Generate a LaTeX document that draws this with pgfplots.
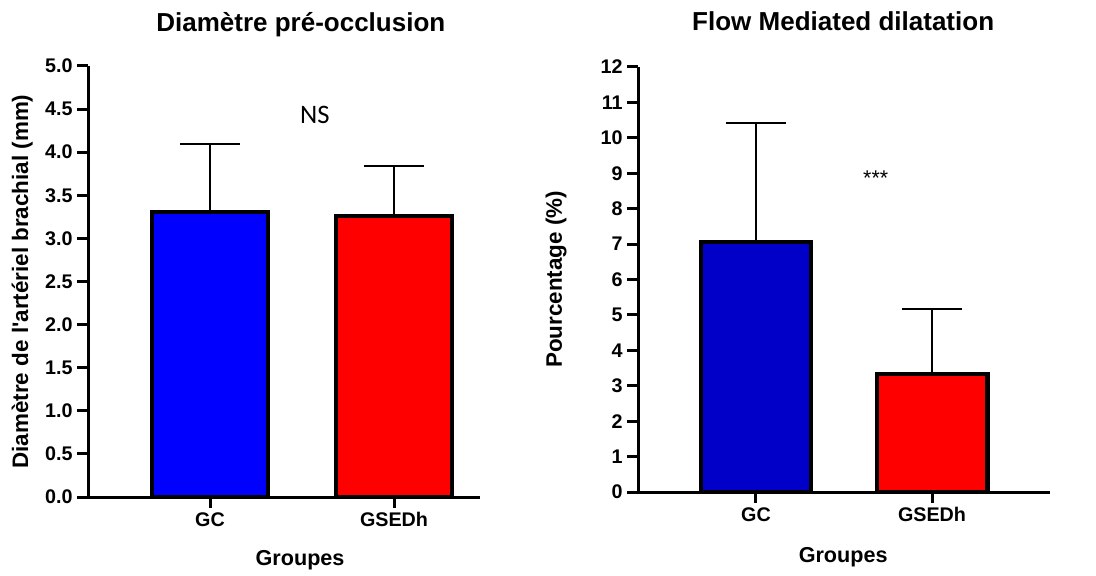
\documentclass[border=0pt]{standalone}
\usepackage{fontspec}
\setmainfont{Liberation Sans}
\newfontfamily\calib{Carlito}
\usepackage{pgfplots}
\pgfplotsset{compat=1.18}
\definecolor{blueA}{RGB}{0,0,255}
\definecolor{blueB}{RGB}{0,0,200}
\definecolor{redA}{RGB}{255,0,0}
\pgfplotsset{
  gp/.style={
    scale only axis,
    axis x line*=bottom, axis y line*=left,
    axis line style={line width=2.25pt, black},
    tick style={line width=2.25pt, black},
    major tick length=8pt,
    tick align=outside,
    xtick={0,1}, xticklabels={GC,GSEDh},
    ymin=0,
    /pgf/number format/assume math mode=true,
    ticklabel style={font=\bfseries\fontsize{14.8}{15}\selectfont},
    xlabel style={font=\bfseries\fontsize{16.2}{17}\selectfont},
    ylabel style={font=\bfseries\fontsize{16.8}{17}\selectfont},
    title style={font=\bfseries\fontsize{19.5}{20}\selectfont, yshift=-7pt},
    clip=false,
  },
  gbar/.style={ybar, bar width=#1, bar shift=0pt, draw=black, line width=3.2pt,
    /pgfplots/error bars/y dir=plus, /pgfplots/error bars/y explicit,
    /pgfplots/error bars/error bar style={line width=1.5pt, black},
    /pgfplots/error bars/error mark options={rotate=90, line width=1.5pt, mark size=22.5pt, black}},
}
\begin{document}
\begin{tikzpicture}
\useasboundingbox (0,0) rectangle (822pt,431.25pt);
% Left chart
\begin{axis}[gp,
  at={(66pt,58.5pt)}, anchor=south west,
  width=294pt, height=323.25pt,
  xmin=-0.663, xmax=1.467,
  ymax=5, ytick={0,0.5,...,5},
  yticklabel style={/pgf/number format/.cd, fixed, fixed zerofill, precision=1},
  title={Diamètre pré-occlusion},
  title style={at={(axis description cs:0.543,1.10)}, anchor=center},
  ylabel={Diamètre de l\textquotesingle artériel brachial (mm)},
  ylabel style={at={(axis description cs:-0.168,0.5)}, anchor=center, rotate=0},
  xlabel={Groupes},
  xlabel style={at={(axis description cs:0.541,-0.146)}, anchor=center},
]
\addplot[fill=blueA, gbar=87pt] coordinates {(0,3.31) +- (0,0.78)};
\addplot[fill=redA, gbar=87pt] coordinates {(1,3.26) +- (0,0.58)};
\node[font=\calib\fontsize{20}{20}\selectfont] at (axis cs:0.57,4.43) {NS};
\end{axis}
% Right chart
\begin{axis}[gp,
  at={(478.5pt,62.25pt)}, anchor=south west,
  width=309pt, height=318.75pt,
  xmin=-0.67, xmax=1.67,
  ymax=12, ytick={0,1,...,12},
  title={Flow Mediated dilatation},
  title style={at={(axis description cs:0.498,1.11)}, anchor=center},
  ylabel={Pourcentage (\%)},
  ylabel style={at={(axis description cs:-0.199,0.5)}, anchor=center, rotate=0},
  xlabel={Groupes},
  xlabel style={at={(axis description cs:0.498,-0.153)}, anchor=center},
]
\addplot[fill=blueB, gbar=83pt] coordinates {(0,7.05) +- (0,3.38)};
\addplot[fill=redA, gbar=83pt] coordinates {(1,3.33) +- (0,1.83)};
\node[font=\fontsize{16}{16}\selectfont] at (axis cs:0.68,8.85) {***};
\end{axis}
\end{tikzpicture}
\end{document}
